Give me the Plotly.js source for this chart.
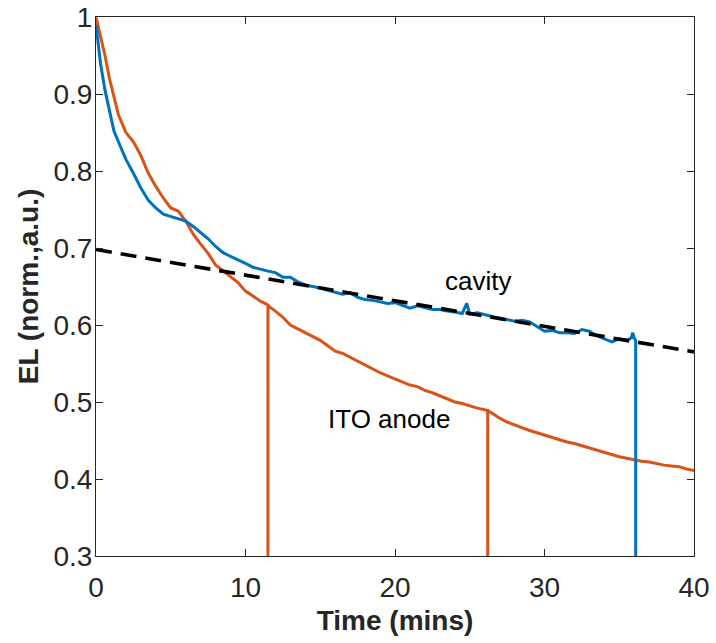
<!DOCTYPE html>
<html>
<head>
<meta charset="utf-8">
<script src="https://cdn.plot.ly/plotly-3.0.1.min.js"></script>
<style>html,body{margin:0;padding:0;background:#fff;}#chart{width:716px;height:643px;}</style>
</head>
<body>
<div id="chart"></div>
<script>
// Cavity device (blue)
const cavityX = [0,0.3,0.6,0.9,1.2,1.5,2.0,2.5,3.0,3.5,4.0,4.5,5.0,5.5,6.0,6.5,7.0,7.5,8.0,8.5,9.0,9.5,10,10.5,11,11.5,12,12.5,13,13.5,14,14.5,15,15.5,16,16.5,17,17.5,18,18.5,19,19.5,20,20.5,21,21.5,22,22.5,23,23.5,24,24.5,24.8,25,25.5,26,26.5,27,27.5,28,28.5,29,29.5,30,30.5,31,31.5,32,32.5,33,33.5,34,34.5,35,35.5,35.8,35.9,36.0,36.1,36.1];
const cavityY = [0.99,0.94,0.905,0.878,0.852,0.838,0.815,0.797,0.778,0.762,0.752,0.744,0.741,0.738,0.735,0.728,0.720,0.712,0.702,0.694,0.689,0.685,0.680,0.675,0.672,0.670,0.668,0.662,0.662,0.656,0.652,0.650,0.648,0.645,0.642,0.640,0.642,0.636,0.633,0.632,0.630,0.628,0.629,0.625,0.622,0.625,0.622,0.620,0.620,0.618,0.617,0.615,0.628,0.614,0.616,0.613,0.611,0.609,0.607,0.605,0.606,0.604,0.598,0.592,0.593,0.590,0.590,0.589,0.594,0.592,0.586,0.582,0.578,0.582,0.580,0.583,0.590,0.583,0.580,0.0];
// ITO anode device (orange)
const itoX = [0,0.3,0.6,0.9,1.2,1.5,2.0,2.5,3.0,3.5,4.0,4.5,5.0,5.5,6.0,6.5,7.0,7.5,8.0,8.5,9.0,9.5,10,10.5,11,11.5,11.5,11.5,12,12.5,13,13.5,14,14.5,15,15.5,16,16.5,17,17.5,18,18.5,19,19.5,20,20.5,21,21.5,22,22.5,23,23.5,24,24.5,25,25.5,26.2,26.2,26.2,26.6,27.0,27.5,28,28.5,29,29.5,30,30.5,31,31.5,32,32.5,33,33.5,34,34.5,35,35.5,36,36.5,37,37.5,38,38.5,39,39.5,40];
const itoY = [1.0,0.975,0.95,0.92,0.895,0.873,0.85,0.838,0.82,0.797,0.78,0.765,0.752,0.748,0.735,0.718,0.705,0.693,0.678,0.670,0.663,0.655,0.644,0.637,0.631,0.626,0.0,0.625,0.618,0.610,0.600,0.595,0.590,0.585,0.580,0.573,0.566,0.563,0.558,0.552,0.547,0.543,0.538,0.534,0.530,0.527,0.522,0.520,0.515,0.512,0.508,0.504,0.500,0.498,0.495,0.492,0.489,0.0,0.489,0.484,0.479,0.474,0.470,0.467,0.463,0.460,0.457,0.453,0.450,0.448,0.446,0.443,0.441,0.438,0.434,0.431,0.429,0.427,0.425,0.423,0.422,0.420,0.418,0.417,0.416,0.413,0.411];
// Linear fit (dashed)
const fitX = [0, 40];
const fitY = [0.698, 0.565];
// Tick labels
const yTickVals = [0.3,0.4,0.5,0.6,0.7,0.8,0.9,1];
const yTickText = ['0.3','0.4','0.5','0.6','0.7','0.8','0.9','1'];
const xTickVals = [0,10,20,30,40];
const xTickText = ['0','10','20','30','40'];
// Labels
const labels = [{text:'cavity', x:25.55, y:0.657},{text:'ITO anode', x:19.63, y:0.478}];

const traces = [
  {x: itoX, y: itoY, mode:'lines', line:{color:'#D95319', width:3}, hoverinfo:'skip'},
  {x: cavityX, y: cavityY, mode:'lines', line:{color:'#0072BD', width:3}, hoverinfo:'skip'},
  {x: fitX, y: fitY, mode:'lines', line:{color:'#000000', width:3.6, dash:'16px,9px'}, hoverinfo:'skip'}
];

const fontFam = 'Liberation Sans, Arial, sans-serif';
const axisCommon = {
  showline:true, mirror:'ticks', linecolor:'#262626', linewidth:1,
  ticks:'inside', ticklen:7, tickcolor:'#262626', tickwidth:1,
  showgrid:false, zeroline:false,
  tickfont:{family:fontFam, size:28, color:'#262626'}
};

const layout = {
  width:716, height:643,
  margin:{l:96, r:22, t:17, b:87},
  paper_bgcolor:'#ffffff', plot_bgcolor:'#ffffff',
  showlegend:false,
  xaxis: Object.assign({}, axisCommon, {
    range:[0,40], tickvals:xTickVals, ticktext:xTickText, ticklabelstandoff:6,
    title:{text:'<b>Time (mins)</b>', standoff:8, font:{family:fontFam, size:28, color:'#262626'}}
  }),
  yaxis: Object.assign({}, axisCommon, {
    range:[0.3,1], tickvals:yTickVals, ticktext:yTickText, ticklabelstandoff:-3,
    title:{text:'<b>EL (norm.,a.u.)</b>', standoff:6, font:{family:fontFam, size:28, color:'#262626'}}
  }),
  annotations: labels.map(l => ({
    text:l.text, x:l.x, y:l.y, xref:'x', yref:'y', showarrow:false,
    font:{family:fontFam, size:26, color:'#000000'}
  }))
};

Plotly.newPlot('chart', traces, layout, {displayModeBar:false, staticPlot:true});
</script>
</body>
</html>
